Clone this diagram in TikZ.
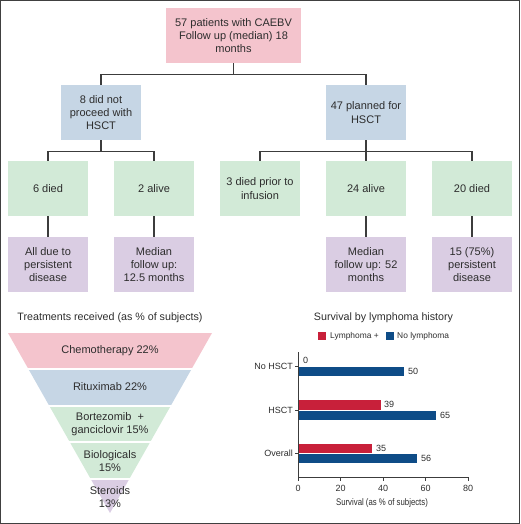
\documentclass[tikz,border=0pt]{standalone}
\usepackage{fontspec}
\setmainfont{Liberation Sans}
\usepackage{tikz}
\usepackage{xcolor}
\definecolor{rootpink}{RGB}{244,196,205}
\definecolor{boxblue}{RGB}{198,214,229}
\definecolor{boxgreen}{RGB}{210,234,215}
\definecolor{boxpurple}{RGB}{218,205,227}
\definecolor{barred}{RGB}{200,32,58}
\definecolor{barblue}{RGB}{14,76,135}
\definecolor{linegray}{RGB}{60,60,60}
\definecolor{textgray}{RGB}{45,45,45}

\begin{document}
\begin{tikzpicture}[x=1pt, y=-1pt,
    box/.style={rectangle, minimum width=80, minimum height=55, inner sep=1, align=center, text=textgray, font=\fontsize{11}{13.4}\selectfont},
    conn/.style={linegray, line width=1.3},
    title/.style={text=textgray, inner sep=1, font=\fontsize{10.7}{12}\selectfont},
    lbl/.style={text=textgray, inner sep=1, font=\fontsize{9}{10}\selectfont}]
    \useasboundingbox (0,0) rectangle (520,524);
    \draw[black!75, line width=1.2] (0.6,0.6) rectangle (519.4,523.4);

    % Root
    \node[box, fill=rootpink, minimum width=135] (root) at (233.5,35.5) {57 patients with CAEBV\\Follow up (median) 18\\months};

    % HSCT groups
    \node[box, fill=boxblue] (nohsct) at (101,112.5) {8 did not\\proceed with\\HSCT};
    \node[box, fill=boxblue] (hsct) at (366,112.5) {47 planned for\\HSCT};

    % Outcomes
    \node[box, fill=boxgreen] (died6) at (48,188.5) {6 died};
    \node[box, fill=boxgreen] (alive2) at (154,188.5) {2 alive};
    \node[box, fill=boxgreen] (died3) at (260,188.5) {3 died prior to\\infusion};
    \node[box, fill=boxgreen] (alive24) at (366,188.5) {24 alive};
    \node[box, fill=boxgreen] (died20) at (472,188.5) {20 died};

    % Details
    \node[box, fill=boxpurple] (cause6) at (48,264.5) {All due to\\persistent\\disease};
    \node[box, fill=boxpurple] (fu2) at (154,264.5) {Median\\follow up:\\12.5 months};
    \node[box, fill=boxpurple] (fu24) at (366,264.5) {Median\\follow up: 52\\months};
    \node[box, fill=boxpurple] (pers20) at (472,264.5) {15 (75\%)\\persistent\\disease};

    % Connectors
    \draw[conn] (root.south) -- ++(0,11) -| (nohsct.north);
    \draw[conn] (root.south) -- ++(0,11) -| (hsct.north);
    \draw[conn] (nohsct.south) -- ++(0,11) -| (died6.north);
    \draw[conn] (nohsct.south) -- ++(0,11) -| (alive2.north);
    \draw[conn] (hsct.south) -- ++(0,11) -| (died3.north);
    \draw[conn] (hsct.south) -- (alive24.north);
    \draw[conn] (hsct.south) -- ++(0,11) -| (died20.north);
    \draw[conn] (died6) -- (cause6);
    \draw[conn] (alive2) -- (fu2);
    \draw[conn] (alive24) -- (fu24);
    \draw[conn] (died20) -- (pers20);

    % Treatments funnel
    \node[title] (treattitle) at (110,318) {Treatments received (as \% of subjects)};
    \begin{scope}
        \clip (8,333) -- (212,333) -- (110,513) -- cycle;
        \fill[rootpink] (0,333) rectangle (220,368);
        \fill[boxblue] (0,369.5) rectangle (220,405);
        \fill[boxgreen] (0,406.5) rectangle (220,441);
        \fill[boxgreen] (0,442.5) rectangle (220,478);
        \fill[boxpurple] (0,479.5) rectangle (220,513);
    \end{scope}
    \node[box, minimum size=0] (chemo) at (110,351) {Chemotherapy 22\%};
    \node[box, minimum size=0] (ritux) at (110,387) {Rituximab 22\%};
    \node[box, minimum size=0] (bortez) at (110,424) {Bortezomib~~+\\ganciclovir 15\%};
    \node[box, minimum size=0] (bio) at (110,461) {Biologicals\\15\%};
    \node[box, minimum size=0] (ster) at (110,497) {Steroids\\13\%};

    % Survival chart
    \node[title] (survtitle) at (383.5,318) {Survival by lymphoma history};
    \fill[barred] (318,332) rectangle (326,340);
    \node[lbl, anchor=west, font=\fontsize{8.4}{10}\selectfont] (legred) at (329,336) {Lymphoma +};
    \fill[barblue] (386,332) rectangle (394,340);
    \node[lbl, anchor=west, font=\fontsize{8.4}{10}\selectfont] (legblue) at (396,336) {No lymphoma};

    % Bars
    \fill[barblue, draw=white, line width=0.5] (298,366) rectangle (404.2,376.5);
    \fill[barred, draw=white, line width=0.5] (298,399.5) rectangle (380.9,410);
    \fill[barblue, draw=white, line width=0.5] (298,410) rectangle (436.1,420.5);
    \fill[barred, draw=white, line width=0.5] (298,443) rectangle (372.4,453);
    \fill[barblue, draw=white, line width=0.5] (298,453) rectangle (417,463.5);
    \node[lbl, anchor=west] (v0) at (302,360.5) {0};
    \node[lbl, anchor=west] (v50) at (407,371) {50};
    \node[lbl, anchor=west] (v39) at (383,404.5) {39};
    \node[lbl, anchor=west] (v65) at (439,415) {65};
    \node[lbl, anchor=west] (v35) at (375,448) {35};
    \node[lbl, anchor=west] (v56) at (420,458.5) {56};

    % Axes
    \draw[linegray, line width=1] (298,352) -- (298,477) -- (468,477);
    \draw[linegray, line width=1] (295,366) -- (298,366);
    \draw[linegray, line width=1] (295,410) -- (298,410);
    \draw[linegray, line width=1] (295,453) -- (298,453);
    \node[lbl, anchor=east] (cnohsct) at (294,366) {No HSCT};
    \node[lbl, anchor=east] (chsct) at (294,410) {HSCT};
    \node[lbl, anchor=east] (coverall) at (294,453) {Overall};
    \draw[linegray, line width=1] (298,477) -- (298,481);
    \draw[linegray, line width=1] (340.5,477) -- (340.5,481);
    \draw[linegray, line width=1] (383,477) -- (383,481);
    \draw[linegray, line width=1] (425.5,477) -- (425.5,481);
    \draw[linegray, line width=1] (468,477) -- (468,481);
    \node[lbl] (t0) at (298,488) {0};
    \node[lbl] (t20) at (340.5,488) {20};
    \node[lbl] (t40) at (383,488) {40};
    \node[lbl] (t60) at (425.5,488) {60};
    \node[lbl] (t80) at (468,488) {80};
    \node[lbl, xscale=0.82, font=\fontsize{9.5}{11}\selectfont] (xtitle) at (382,503) {Survival (as \% of subjects)};
\end{tikzpicture}
\end{document}
